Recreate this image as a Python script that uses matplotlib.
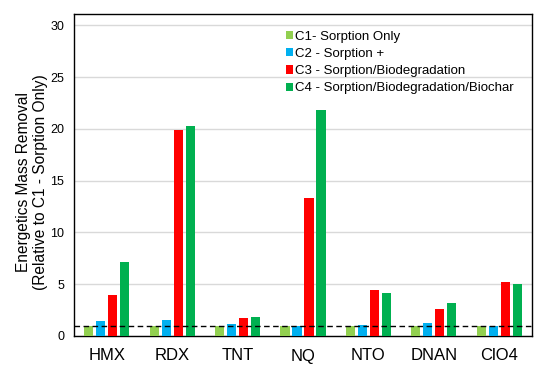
import numpy as np
import matplotlib.pyplot as plt

plt.rcParams['font.family'] = ['Liberation Sans', 'DejaVu Sans']

compounds = ["HMX", "RDX", "TNT", "NQ", "NTO", "DNAN", "ClO4"]
series_names = ["C1- Sorption Only", "C2 - Sorption +",
                "C3 - Sorption/Biodegradation",
                "C4 - Sorption/Biodegradation/Biochar"]
c1 = [1.0, 1.0, 1.0, 1.0, 1.0, 1.0, 1.0]
c2 = [1.45, 1.55, 1.16, 0.92, 1.07, 1.26, 0.93]
c3 = [3.96, 19.9, 1.74, 13.34, 4.45, 2.61, 5.22]
c4 = [7.15, 20.3, 1.84, 21.85, 4.16, 3.19, 5.03]
colors = ["#92D050", "#00B0F0", "#FF0000", "#00B050"]

fig = plt.figure(figsize=(5.47, 3.71), dpi=100)
ax = fig.add_axes([74/547, 1-336/371, 458/547, 322/371])

x = np.arange(len(compounds))
pitch = 0.183
width = 0.14
for i, (vals, col, name) in enumerate(zip([c1, c2, c3, c4], colors, series_names)):
    ax.bar(x + (i - 1.5) * pitch, vals, width, color=col, label=name, zorder=3)

ax.axhline(1, color='black', ls=(0, (4, 2.5)), lw=1, zorder=4)

ax.set_xlim(-0.5, len(compounds) - 0.5)
ax.set_ylim(0, 31.1)
ax.set_yticks(range(0, 31, 5))
ax.yaxis.grid(True, color='#D9D9D9', lw=1, zorder=0)
ax.set_xticks(x)
ax.set_xticklabels(compounds, fontsize=12)
ax.tick_params(axis='both', length=0)
ax.tick_params(axis='y', labelsize=9, pad=7)
ax.tick_params(axis='x', pad=9)
for s in ax.spines.values():
    s.set_linewidth(1)
ax.set_ylabel("Energetics Mass Removal\n(Relative to C1 - Sorption Only)",
              fontsize=11.2, linespacing=1.15)
ax.yaxis.set_label_coords(-0.057, 0.478)

ax.legend(loc='upper left', bbox_to_anchor=(0.451, 0.965), frameon=False,
          fontsize=9.5, handlelength=0.55, handleheight=0.6, handletextpad=0.15,
          labelspacing=0.4, borderaxespad=0)

fig.savefig("out.png", dpi=100)
